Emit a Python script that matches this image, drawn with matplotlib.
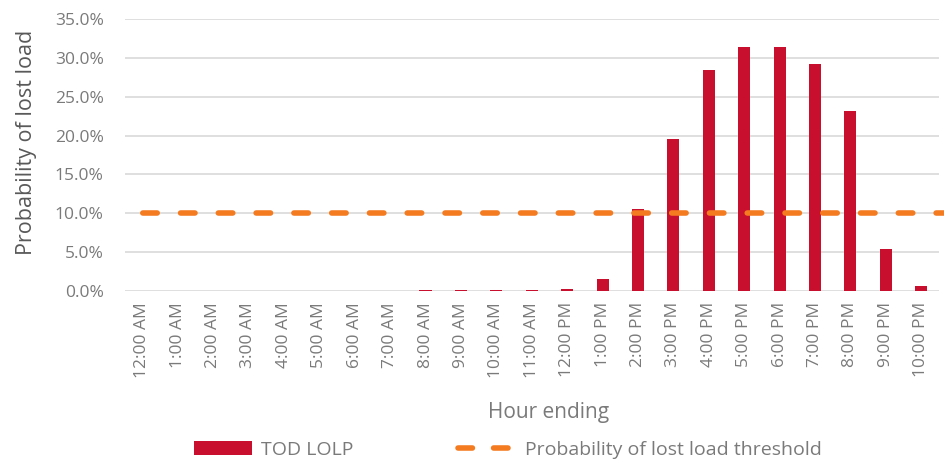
import matplotlib
matplotlib.use("Agg")
from matplotlib import pyplot as plt
from matplotlib.lines import Line2D
import numpy as np

plt.rcParams['font.family'] = ['Open Sans', 'DejaVu Sans']

hours = ['12:00 AM', '1:00 AM', '2:00 AM', '3:00 AM', '4:00 AM', '5:00 AM',
         '6:00 AM', '7:00 AM', '8:00 AM', '9:00 AM', '10:00 AM', '11:00 AM',
         '12:00 PM', '1:00 PM', '2:00 PM', '3:00 PM', '4:00 PM', '5:00 PM',
         '6:00 PM', '7:00 PM', '8:00 PM', '9:00 PM', '10:00 PM']
tod_lolp = [0, 0, 0, 0, 0, 0, 0, 0, 0.1, 0.1, 0.1, 0.1,
            0.3, 1.5, 10.5, 19.6, 28.5, 31.4, 31.4, 29.2, 23.2, 5.4, 0.6]
threshold = 10.0

grey = '#7a7a7a'
dark = '#595959'
orange = '#F47B20'

fig = plt.figure(figsize=(9.44, 4.63), dpi=100)
ax = fig.add_axes([124.5 / 944, 1 - 291 / 463, (939 - 124.5) / 944, (291 - 19) / 463])

x = np.arange(len(hours))
bars = ax.bar(x, tod_lolp, width=0.34, color='#C8102E', label='TOD LOLP', zorder=3)
ax.plot([-0.5, len(hours) - 0.35], [threshold, threshold], color=orange, lw=4,
        linestyle=(3.6, (2.6, 4.2)), dash_capstyle='round', clip_on=False, zorder=4)
# legend proxy so the handle shows two dashes
line_proxy = Line2D([], [], color=orange, lw=4, linestyle=(0, (2.6, 3.8)),
                    dash_capstyle='round')

ax.set_xlim(-0.5, len(hours) - 0.5)
ax.set_ylim(0, 35)
ax.set_yticks(np.arange(0, 36, 5))
ax.set_yticklabels([f'{v:.1f}%' for v in np.arange(0, 36, 5)])
ax.set_xticks(x)
ax.set_xticklabels(hours, rotation=90)
ax.grid(axis='y', color='#D9D9D9', lw=1.2, zorder=0)
for s in ax.spines.values():
    s.set_visible(False)
ax.tick_params(length=0, colors=grey, labelsize=12.5)
ax.tick_params(axis='x', pad=8)
ax.tick_params(axis='y', pad=15)

ax.set_ylabel('Probability of lost load', fontsize=15.5, color=dark, fontweight='medium')
ax.yaxis.set_label_coords(-0.107, 0.545)
ax.set_xlabel('Hour ending', fontsize=15, color=grey)
ax.xaxis.set_label_coords(0.521, -0.408)

leg = fig.legend([bars, line_proxy], ['TOD LOLP', 'Probability of lost load threshold'],
                 loc='center', bbox_to_anchor=(508 / 944, 1 - 450 / 463), ncol=2,
                 frameon=False, fontsize=14, handlelength=3.0, handleheight=0.75,
                 handletextpad=0.45, columnspacing=5.4, borderpad=0)
for t in leg.get_texts():
    t.set_color(grey)

plt.savefig('out.png', dpi=100)
